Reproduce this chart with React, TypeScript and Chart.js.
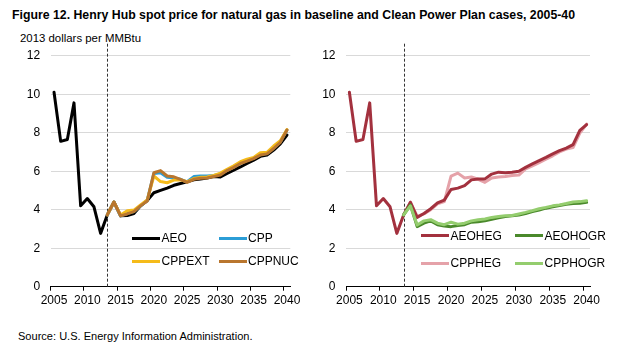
import React, { useEffect, useLayoutEffect, useRef } from 'react';
import { Chart, registerables } from 'chart.js';

Chart.register(...registerables);

// ---------- data ----------
const years = [
  2005, 2006, 2007, 2008, 2009, 2010, 2011, 2012, 2013, 2014, 2015, 2016,
  2017, 2018, 2019, 2020, 2021, 2022, 2023, 2024, 2025, 2026, 2027, 2028,
  2029, 2030, 2031, 2032, 2033, 2034, 2035, 2036, 2037, 2038, 2039, 2040,
];
const xLabelYears = [2005, 2010, 2015, 2020, 2025, 2030, 2035, 2040];
const yMin = 0;
const yMax = 12;
const yStep = 2;
const dividerYear = 2013;
const projectionStart = 2013;

// history 2005-2013
const historyValues = [10.1, 7.55, 7.65, 9.55, 4.2, 4.58, 4.15, 2.77, 3.73];

// projections 2014-2040 (appended to history)
const aeoProjection = [
  4.4, 3.68, 3.7, 3.8, 4.2, 4.48, 4.88, 5.0, 5.12, 5.27, 5.36, 5.45, 5.55,
  5.6, 5.65, 5.72, 5.7, 5.88, 6.05, 6.22, 6.4, 6.57, 6.77, 6.84, 7.1, 7.42, 7.88,
];
const aeoHegProjection = [
  4.38, 3.6, 3.8, 4.05, 4.35, 4.5, 5.05, 5.12, 5.25, 5.55, 5.6, 5.6, 5.85,
  5.95, 5.92, 5.95, 6.0, 6.2, 6.38, 6.55, 6.72, 6.9, 7.07, 7.2, 7.38, 8.12, 8.42,
];

// cases 2013-2040
const cppValues = [
  3.73, 4.4, 3.68, 3.8, 3.9, 4.2, 4.48, 5.88, 5.92, 5.68, 5.65, 5.58, 5.45,
  5.72, 5.75, 5.75, 5.78, 5.85, 6.05, 6.22, 6.45, 6.55, 6.68, 6.86, 6.92, 7.2, 7.52, 8.14,
];
const cppExtValues = [
  3.73, 4.4, 3.72, 3.95, 3.98, 4.25, 4.5, 5.75, 5.46, 5.4, 5.54, 5.55, 5.45,
  5.62, 5.68, 5.7, 5.78, 5.9, 6.1, 6.28, 6.49, 6.62, 6.71, 6.96, 6.98, 7.31, 7.58, 8.16,
];
const cppNucValues = [
  3.73, 4.4, 3.68, 3.78, 3.9, 4.2, 4.45, 5.92, 6.03, 5.75, 5.71, 5.58, 5.42,
  5.58, 5.63, 5.65, 5.72, 5.8, 6.03, 6.2, 6.4, 6.52, 6.65, 6.84, 6.9, 7.18, 7.5, 8.14,
];
const cppHegValues = [
  3.73, 4.4, 3.65, 3.78, 4.0, 4.3, 4.42, 5.75, 5.9, 5.65, 5.7, 5.58, 5.42,
  5.65, 5.7, 5.72, 5.78, 5.8, 6.12, 6.28, 6.45, 6.62, 6.8, 7.0, 7.15, 7.23, 7.98, 8.45,
];
const aeoHogrValues = [
  3.73, 4.25, 3.12, 3.3, 3.42, 3.22, 3.15, 3.12, 3.18, 3.22, 3.35, 3.38, 3.42,
  3.5, 3.58, 3.65, 3.68, 3.72, 3.8, 3.9, 3.98, 4.08, 4.15, 4.22, 4.28, 4.32, 4.33, 4.38,
];
const cppHogrValues = [
  3.73, 4.2, 3.2, 3.42, 3.48, 3.3, 3.22, 3.35, 3.25, 3.3, 3.42, 3.48, 3.52,
  3.6, 3.65, 3.68, 3.7, 3.78, 3.86, 3.95, 4.05, 4.12, 4.2, 4.25, 4.32, 4.4, 4.42, 4.47,
];

const leftNames = ['AEO', 'CPP', 'CPPEXT', 'CPPNUC'];
const leftColors = ['#000000', '#2b9dd6', '#f5bb1a', '#b9762e'];
const leftOrder = [3, 2, 1, 0];
const rightNames = ['AEOHEG', 'AEOHOGR', 'CPPHEG', 'CPPHOGR'];
const rightColors = ['#a3313e', '#4a892b', '#e5a2a9', '#94cd6e'];
const rightOrder = [2, 1, 3, 0];

const titleText =
  'Figure 12.  Henry Hub spot price for natural gas in baseline and Clean Power Plan cases, 2005-40';
const unitText = '2013 dollars per MMbtu'.replace('MMbtu', 'MMBtu');
const sourceText = 'Source: U.S. Energy Information Administration.';

// ---------- helpers ----------
function toPoints(startYear: number, values: number[]) {
  const start = years.indexOf(startYear);
  return values.map((v, i) => ({ x: years[start + i], y: v }));
}

const FONT = "'Liberation Sans', Arial, sans-serif";

const dividerPlugin = {
  id: 'divider',
  beforeDatasetsDraw(chart: any) {
    const { ctx, chartArea, scales } = chart;
    const x = Math.round(scales.x.getPixelForValue(dividerYear)) + 0.5;
    ctx.save();
    ctx.setLineDash([3, 2]);
    ctx.strokeStyle = '#333333';
    ctx.lineWidth = 1;
    ctx.beginPath();
    ctx.moveTo(x, chartArea.top - 12);
    ctx.lineTo(x, chartArea.bottom);
    ctx.stroke();
    ctx.restore();
  },
};

function makeConfig(datasets: any[], yWidth: number, padRight: number, labelOffset: number) {
  return {
    type: 'line',
    data: { datasets },
    options: {
      animation: false,
      responsive: false,
      events: [],
      layout: { padding: { top: 55.7, right: padRight, left: 0, bottom: 0 } },
      plugins: { legend: { display: false }, tooltip: { enabled: false } },
      elements: {
        point: { radius: 0 },
        line: { tension: 0, borderWidth: 3, borderJoinStyle: 'round', borderCapStyle: 'round' },
      },
      scales: {
        x: {
          type: 'linear',
          min: years[0] - 0.5,
          max: years[years.length - 1] + 0.5,
          afterBuildTicks: (s: any) => {
            s.ticks = xLabelYears.map((y) => ({ value: y - 0.5 }));
          },
          afterFit: (s: any) => {
            s.height = 33.3;
          },
          ticks: {
            autoSkip: false,
            maxRotation: 0,
            padding: 3,
            labelOffset,
            color: '#000',
            font: { family: FONT, size: 12 },
            callback: (v: number) => String(Math.round(v + 0.5)),
          },
          grid: {
            display: true,
            drawOnChartArea: false,
            drawTicks: true,
            tickLength: 4,
            color: '#000',
            lineWidth: 1,
          },
          border: { display: true, color: '#000', width: 1 },
        },
        y: {
          min: yMin,
          max: yMax,
          afterFit: (s: any) => {
            s.width = yWidth;
          },
          ticks: {
            stepSize: yStep,
            padding: 10.5,
            color: '#000',
            font: { family: FONT, size: 12 },
          },
          grid: {
            drawTicks: false,
            color: (c: any) => (c.tick && c.tick.value === 0 ? '#000' : '#d9d9d9'),
            lineWidth: 1,
          },
          border: { display: false },
        },
      },
    },
    plugins: [dividerPlugin],
  };
}

function lineDs(label: string, color: string, order: number, data: any[]) {
  return {
    label,
    data,
    order,
    borderColor: color,
    backgroundColor: color,
    fill: false,
    pointRadius: 0,
    borderWidth: 3,
  };
}

function FitText(props: {
  text: string;
  left: number;
  top: number;
  width: number;
  size: number;
  weight?: string;
  family: string;
}) {
  const ref = useRef<HTMLSpanElement>(null);
  useLayoutEffect(() => {
    const el = ref.current;
    if (!el) return;
    el.style.transform = 'none';
    const w = el.getBoundingClientRect().width;
    if (w > 0) el.style.transform = `scaleX(${props.width / w})`;
  }, [props.text, props.width]);
  return (
    <span
      ref={ref}
      style={{
        position: 'absolute',
        left: props.left,
        top: props.top,
        whiteSpace: 'nowrap',
        transformOrigin: '0 0',
        fontSize: props.size,
        lineHeight: `${props.size}px`,
        fontWeight: (props.weight as any) || 'normal',
        fontFamily: props.family,
        color: '#000',
      }}
    >
      {props.text}
    </span>
  );
}

function LegendItem(props: { label: string; color: string; x: number; y: number }) {
  return (
    <>
      <div
        style={{
          position: 'absolute',
          left: props.x,
          top: props.y - 1.5,
          width: 28,
          height: 3,
          background: props.color,
        }}
      />
      <span
        style={{
          position: 'absolute',
          left: props.x + 29.5,
          top: props.y - 6.9,
          fontFamily: FONT,
          fontSize: 12,
          lineHeight: '14px',
          whiteSpace: 'nowrap',
          color: '#000',
        }}
      >
        {props.label}
      </span>
    </>
  );
}

// legend layout (page coordinates)
const leftLegendPos = [
  { x: 132, y: 238 },
  { x: 218.5, y: 238 },
  { x: 132, y: 261 },
  { x: 218.5, y: 261 },
];
const rightLegendPos = [
  { x: 421, y: 235.5 },
  { x: 515, y: 235.5 },
  { x: 421, y: 263.3 },
  { x: 515, y: 263.3 },
];

export default function App() {
  const leftRef = useRef<HTMLCanvasElement>(null);
  const rightRef = useRef<HTMLCanvasElement>(null);

  useEffect(() => {
    const aeo = toPoints(years[0], historyValues.concat(aeoProjection));
    const left = new Chart(
      leftRef.current as HTMLCanvasElement,
      makeConfig(
        [
          lineDs(leftNames[0], leftColors[0], leftOrder[0], aeo),
          lineDs(leftNames[1], leftColors[1], leftOrder[1], toPoints(projectionStart, cppValues)),
          lineDs(leftNames[2], leftColors[2], leftOrder[2], toPoints(projectionStart, cppExtValues)),
          lineDs(leftNames[3], leftColors[3], leftOrder[3], toPoints(projectionStart, cppNucValues)),
        ],
        50.7,
        19.7,
        3.33
      ) as any
    );
    const heg = toPoints(years[0], historyValues.concat(aeoHegProjection));
    const right = new Chart(
      rightRef.current as HTMLCanvasElement,
      makeConfig(
        [
          lineDs(rightNames[0], rightColors[0], rightOrder[0], heg),
          lineDs(rightNames[1], rightColors[1], rightOrder[1], toPoints(projectionStart, aeoHogrValues)),
          lineDs(rightNames[2], rightColors[2], rightOrder[2], toPoints(projectionStart, cppHegValues)),
          lineDs(rightNames[3], rightColors[3], rightOrder[3], toPoints(projectionStart, cppHogrValues)),
        ],
        36,
        45,
        3.39
      ) as any
    );
    return () => {
      left.destroy();
      right.destroy();
    };
  }, []);

  const narrow = "'Liberation Sans Narrow', 'Liberation Sans', Arial, sans-serif";

  return (
    <div
      style={{
        position: 'absolute',
        left: 0,
        top: 0,
        width: 635,
        height: 358,
        background: '#fff',
        overflow: 'hidden',
      }}
    >
      <FitText text={titleText} left={12} top={7.9} width={563} size={13.5} weight="bold" family={narrow} />
      <FitText text={unitText} left={20} top={32.8} width={121} size={10.5} family={narrow} />
      <canvas
        ref={leftRef}
        width={310}
        height={320}
        style={{ position: 'absolute', left: 0, top: 0, width: 310, height: 320 }}
      />
      <canvas
        ref={rightRef}
        width={325}
        height={320}
        style={{ position: 'absolute', left: 310, top: 0, width: 325, height: 320 }}
      />
      {leftNames.map((n, i) => (
        <LegendItem key={n} label={n} color={leftColors[i]} x={leftLegendPos[i].x} y={leftLegendPos[i].y} />
      ))}
      {rightNames.map((n, i) => (
        <LegendItem key={n} label={n} color={rightColors[i]} x={rightLegendPos[i].x} y={rightLegendPos[i].y} />
      ))}
      <FitText text={sourceText} left={18.2} top={330.9} width={234.5} size={10.8} family={narrow} />
    </div>
  );
}
